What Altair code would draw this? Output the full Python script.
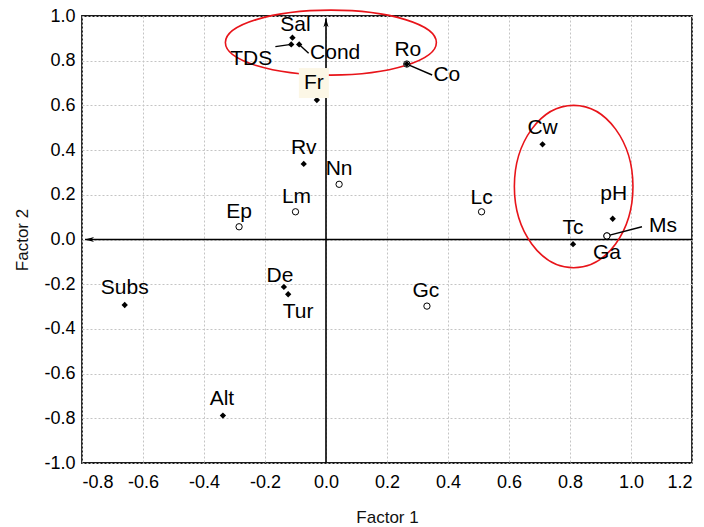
import altair as alt
import pandas as pd

# Factor loadings of the variables on the first two factors
names = ["Sal", "TDS", "Cond", "Fr", "Rv", "Nn", "Lm", "Ep", "Subs", "De", "Tur",
         "Alt", "Gc", "Co", "Ro", "Cw", "Lc", "pH", "Ms", "Ga", "Tc"]
factor1 = [-0.110, -0.114, -0.088, -0.030, -0.073, 0.043, -0.100, -0.285, -0.660, -0.138, -0.124,
           -0.338, 0.331, 0.265, 0.265, 0.710, 0.510, 0.940, 0.921, 0.921, 0.810]
factor2 = [0.903, 0.873, 0.873, 0.624, 0.338, 0.247, 0.124, 0.057, -0.293, -0.212, -0.245,
           -0.788, -0.298, 0.785, 0.785, 0.426, 0.124, 0.093, 0.016, 0.016, -0.021]
marker = ["filled", "filled", "filled", "filled", "filled", "open", "open", "open", "filled", "filled", "filled",
          "filled", "open", "open", "filled", "filled", "open", "filled", "open", "open", "filled"]

# Label placement relative to each point (pixels)
label_dx = [3, -40, 36, -3, 0, 0, 1, 0, 0, -4, 10, -1, -1, 40, 1, 0, 0, 1, 56, 0, 0]
label_dy = [-13, 15, 9, -17, -16, -15, -15, -15, -17, -11, 18, -17, -15, 11, -14, -16, -14, -25, -10, 17, -16]

# Leader lines from a point toward its label
leader_from = ["TDS", "Cond", "Co", "Ms"]
leader_x2 = [-0.166, -0.057, 0.348, 1.036]
leader_y2 = [0.863, 0.833, 0.736, 0.057]

# Highlighted groups (centre in data units, semi-axes in pixels)
group_cx = [0.016, 0.812]
group_cy = [0.881, 0.237]
group_rx = [105.5, 59.3]
group_ry = [32.5, 81.2]

x_ticks = [-0.8, -0.6, -0.4, -0.2, 0.0, 0.2, 0.4, 0.6, 0.8, 1.0, 1.2]
y_ticks = [-1.0, -0.8, -0.6, -0.4, -0.2, 0.0, 0.2, 0.4, 0.6, 0.8, 1.0]

W, H = 610, 447
X_DOM, Y_DOM = [-0.8, 1.2], [-1.0, 1.0]
px_x = W / (X_DOM[1] - X_DOM[0])
px_y = H / (Y_DOM[1] - Y_DOM[0])

pts = pd.DataFrame({"name": names, "f1": factor1, "f2": factor2, "marker": marker})
pts["lx"] = [x + dx / px_x for x, dx in zip(factor1, label_dx)]
pts["ly"] = [y - dy / px_y for y, dy in zip(factor2, label_dy)]

lead = pts.set_index("name").loc[leader_from, ["f1", "f2"]].reset_index()
lead["x2"] = leader_x2
lead["y2"] = leader_y2

K = 0.5523


def ellipse_path(rx, ry):
    # unit ellipse drawn with cubic curves, normalised so the larger axis is 1
    m = max(rx, ry)
    a, b = rx / m, ry / m
    return (f"M{-a},0 C{-a},{-K*b} {-K*a},{-b} 0,{-b} C{K*a},{-b} {a},{-K*b} {a},0 "
            f"C{a},{K*b} {K*a},{b} 0,{b} C{-K*a},{b} {-a},{K*b} {-a},0 Z")


xs = alt.Scale(domain=X_DOM, nice=False, zero=False)
ys = alt.Scale(domain=Y_DOM, nice=False, zero=False)

tick_expr = "replace(format(datum.value, '.1f'), '\u2212', '-')"
axis_style = dict(labelExpr=tick_expr, ticks=False, domain=False,
                  labelFontSize=18, titleFontSize=17,
                  labelColor="#000", titleColor="#111", titleFontWeight="normal",
                  titleFont="Liberation Sans", labelFont="Liberation Sans",
                  grid=True, gridDash=[2, 2], gridColor="#c4c4c4", gridWidth=1)
x_enc = alt.X("f1:Q", scale=xs, title="Factor 1",
              axis=alt.Axis(values=x_ticks, labelPadding=10, titlePadding=18, **axis_style))
y_enc = alt.Y("f2:Q", scale=ys, title="Factor 2",
              axis=alt.Axis(values=y_ticks, labelPadding=7, titlePadding=12, **axis_style))

base = alt.Chart(pts)

# invisible layer carrying the axes and grid
frame = base.mark_point(opacity=0).encode(x=x_enc, y=y_enc)

# zero axes with arrowheads
zero_axes = pd.DataFrame({"x": [0.0, -0.79], "y": [-1.0, 0.0], "x2": [0.0, 1.2], "y2": [0.99, 0.0]})
axes_lines = alt.Chart(zero_axes).mark_rule(color="#000", strokeWidth=1.6).encode(
    x=alt.X("x:Q", scale=xs), y=alt.Y("y:Q", scale=ys), x2="x2:Q", y2="y2:Q")
arrow_up = alt.Chart(pd.DataFrame({"x": [0.0], "y": [0.99]})).mark_point(
    shape="M0,0 L0.45,1.6 L0,1.15 L-0.45,1.6 Z", size=127, filled=True, color="#000", opacity=1
).encode(x=alt.X("x:Q", scale=xs), y=alt.Y("y:Q", scale=ys))
arrow_left = alt.Chart(pd.DataFrame({"x": [-0.79], "y": [0.0]})).mark_point(
    shape="M0,0 L1.6,-0.45 L1.15,0 L1.6,0.45 Z", size=127, filled=True, color="#000", opacity=1
).encode(x=alt.X("x:Q", scale=xs), y=alt.Y("y:Q", scale=ys))

# group ellipses
ellipses = []
for cx, cy, rx, ry in zip(group_cx, group_cy, group_rx, group_ry):
    ellipses.append(
        alt.Chart(pd.DataFrame({"x": [cx], "y": [cy]})).mark_point(
            shape=ellipse_path(rx, ry), size=(2 * max(rx, ry)) ** 2, filled=False,
            stroke="#e8141a", strokeWidth=1.6, opacity=1
        ).encode(x=alt.X("x:Q", scale=xs), y=alt.Y("y:Q", scale=ys))
    )

leaders = alt.Chart(lead).mark_rule(color="#000", strokeWidth=1.4).encode(
    x=alt.X("f1:Q", scale=xs), y=alt.Y("f2:Q", scale=ys), x2="x2:Q", y2="y2:Q")

open_pts = base.transform_filter("datum.marker == 'open'").mark_point(
    shape="circle", size=40, filled=True, fill="white", stroke="#000", strokeWidth=1, opacity=1
).encode(x=alt.X("f1:Q", scale=xs), y=alt.Y("f2:Q", scale=ys))
filled_pts = base.transform_filter("datum.marker == 'filled'").mark_point(
    shape="diamond", size=40, filled=True, color="#000", opacity=1
).encode(x=alt.X("f1:Q", scale=xs), y=alt.Y("f2:Q", scale=ys))

fr_box = base.transform_filter("datum.name == 'Fr'").mark_point(
    shape="square", size=900, filled=True, color="#fcf7e6", opacity=1
).encode(x=alt.X("lx:Q", scale=xs), y=alt.Y("ly:Q", scale=ys))

labels = base.mark_text(font="Liberation Sans", fontSize=21, color="#000",
                        align="center", baseline="middle").encode(
    x=alt.X("lx:Q", scale=xs), y=alt.Y("ly:Q", scale=ys), text="name:N")

chart = alt.layer(
    frame, axes_lines, arrow_up, arrow_left, *ellipses, leaders, open_pts, filled_pts, fr_box, labels
).properties(
    width=W, height=H,
    autosize=alt.AutoSizeParams(type="none"),
    padding={"left": 82, "top": 16, "right": 12, "bottom": 64},
    background="white",
).configure_view(stroke="#1a1a1a", strokeWidth=1.8)

chart.save("out.html", embed_options={"renderer": "svg", "actions": False})
